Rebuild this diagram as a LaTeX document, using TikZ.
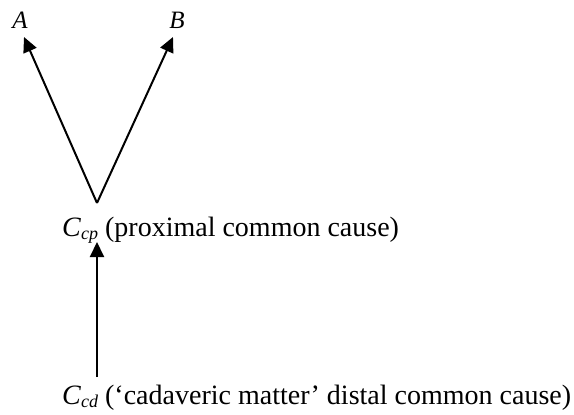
\documentclass[tikz,border=0pt]{standalone}
\usepackage{fontspec}
\setmainfont{Liberation Serif}
\usetikzlibrary{arrows.meta}
\begin{document}
\begin{tikzpicture}[x=1pt,y=-1pt,
  lbl/.style={inner sep=0pt,font=\fontsize{25}{28}\selectfont},
  txt/.style={inner sep=0pt,font=\fontsize{28}{32}\selectfont},
  arr/.style={line width=2pt,-{Triangle[length=15pt,width=14pt]}}]
\useasboundingbox (0,0) rectangle (574,415);
\node[lbl,anchor=base] (A) at (20,28) {\textit{A}};
\node[lbl,anchor=base] (B) at (177,28) {\textit{B}};
\coordinate (ta) at (24,37);
\coordinate (tb) at (173,37);
\coordinate (apex) at (97,203);
\node[txt,anchor=base west] (Ccp) at (62,236) {\textit{C}\raisebox{-0.25ex}{\fontsize{18}{20}\selectfont\textit{cp}} (proximal common cause)};
\node[txt,anchor=base west] (Ccd) at (62,404) {\textit{C}\raisebox{-0.25ex}{\fontsize{18}{20}\selectfont\textit{cd}} (‘cadaveric matter’ distal common cause)};
\coordinate (bot) at (97,377);
\coordinate (top) at (97,242);
\draw[arr] (apex) -- (ta);
\draw[arr] (apex) -- (tb);
\draw[arr] (bot) -- (top);
\end{tikzpicture}
\end{document}
